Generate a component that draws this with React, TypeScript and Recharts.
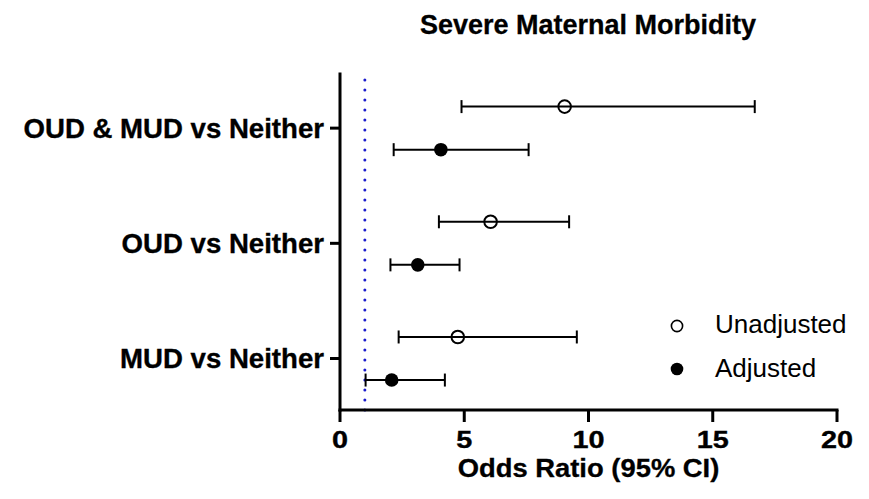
import React from 'react';
import { ScatterChart, Scatter, XAxis, YAxis, ErrorBar, ReferenceLine, Legend } from 'recharts';

// ---- data ----
const categories = ['MUD vs Neither', 'OUD vs Neither', 'OUD & MUD vs Neither'];
const categoryPositions = [1, 2, 3];
const unadjustedOR = [4.74, 6.06, 9.04];
const unadjustedLow = [2.36, 3.98, 4.89];
const unadjustedHigh = [9.53, 9.22, 16.69];
const adjustedOR = [2.08, 3.13, 4.06];
const adjustedLow = [1.03, 2.03, 2.16];
const adjustedHigh = [4.22, 4.81, 7.59];
const xTicks = [0, 5, 10, 15, 20];
const legendLabels = ['Unadjusted', 'Adjusted'];
const referenceOR = 1;

const ROW_OFFSET = 0.187;
const FONT = '"Liberation Sans", Arial, Helvetica, sans-serif';

const unadjustedData = categories.map((c, i) => ({
  name: c,
  or: unadjustedOR[i],
  y: categoryPositions[i] + ROW_OFFSET,
  err: [unadjustedOR[i] - unadjustedLow[i], unadjustedHigh[i] - unadjustedOR[i]],
}));
const adjustedData = categories.map((c, i) => ({
  name: c,
  or: adjustedOR[i],
  y: categoryPositions[i] - ROW_OFFSET,
  err: [adjustedOR[i] - adjustedLow[i], adjustedHigh[i] - adjustedOR[i]],
}));

const OpenDot = (props: any) => (
  <circle cx={props.cx} cy={props.cy} r={6.3} fill="none" stroke="#000" strokeWidth={2} />
);
const FilledDot = (props: any) => (
  <circle cx={props.cx} cy={props.cy} r={6.8} fill="#000" stroke="none" />
);

const YTick = (props: any) => {
  const { x, y, payload } = props;
  const idx = categoryPositions.indexOf(payload.value);
  return (
    <text x={x} y={y} dy={9.8} textAnchor="end" fontFamily={FONT} fontWeight="bold" fontSize={27.6}
      fill="#000" stroke="#000" strokeWidth={0.35}>
      {idx >= 0 ? categories[idx] : ''}
    </text>
  );
};

const XTick = (props: any) => {
  const { x, y, payload } = props;
  return (
    <g transform={`translate(${x},${y})`}>
      <text x={0} y={0} dy={24} textAnchor="middle" transform="scale(1.2,1)" fontFamily={FONT} fontWeight="bold"
        fontSize={24} fill="#000" stroke="#000" strokeWidth={0.35}>
        {payload.value}
      </text>
    </g>
  );
};

const XLabel = (props: any) => {
  const vb = props.viewBox || {};
  const cx = vb.x + vb.width / 2;
  const by = vb.y + 67;
  return (
    <g transform={`translate(${cx},${by})`}>
      <text x={0} y={0} textAnchor="middle" transform="scale(1.07,1)" fontFamily={FONT} fontWeight="bold"
        fontSize={25.6} fill="#000" stroke="#000" strokeWidth={0.3}>
        Odds Ratio (95% CI)
      </text>
    </g>
  );
};

const LegendContent = () => (
  <svg width={210} height={100} style={{ display: 'block' }}>
    <circle cx={27} cy={26} r={5.6} fill="none" stroke="#000" strokeWidth={1.6} />
    <text x={65} y={33} fontFamily={FONT} fontSize={26} fill="#000">{legendLabels[0]}</text>
    <circle cx={27} cy={69} r={6.3} fill="#000" />
    <text x={65} y={77} fontFamily={FONT} fontSize={26} fill="#000">{legendLabels[1]}</text>
  </svg>
);

export default function App() {
  return (
    <div style={{ position: 'absolute', left: 0, top: 0, width: 869, height: 499, background: '#fff' }}>
      <svg width={869} height={60} style={{ position: 'absolute', left: 0, top: 0 }}>
        <text x={588} y={34} textAnchor="middle" fontFamily={FONT} fontWeight="bold" fontSize={27}
          fill="#000" stroke="#000" strokeWidth={0.3}>
          Severe Maternal Morbidity
        </text>
      </svg>
      <div style={{ position: 'absolute', left: 0, top: 0 }}>
        <ScatterChart width={869} height={499} margin={{ top: 74, right: 32, bottom: 9, left: 0 }}>
          <XAxis
            type="number"
            dataKey="or"
            domain={[0, 20]}
            ticks={xTicks}
            allowDataOverflow
            height={80}
            tickSize={12}
            tickMargin={2}
            axisLine={{ stroke: '#000', strokeWidth: 3, strokeLinecap: 'square' }}
            tickLine={{ stroke: '#000', strokeWidth: 3 }}
            tick={<XTick />}
            label={<XLabel />}
          />
          <YAxis
            type="number"
            dataKey="y"
            domain={[0.553, 3.47]}
            ticks={categoryPositions}
            allowDataOverflow
            width={340}
            tickSize={10}
            tickMargin={6}
            axisLine={{ stroke: '#000', strokeWidth: 3, strokeLinecap: 'square' }}
            tickLine={{ stroke: '#000', strokeWidth: 3 }}
            tick={<YTick />}
          />
          <ReferenceLine
            x={referenceOR}
            stroke="#1c1ccc"
            strokeWidth={3}
            strokeDasharray="0 10"
            strokeLinecap="round"
          />
          <Scatter name={legendLabels[0]} data={unadjustedData} shape={<OpenDot />} isAnimationActive={false}>
            <ErrorBar dataKey="err" direction="x" width={6.5} stroke="#000" strokeWidth={2} />
          </Scatter>
          <Scatter name={legendLabels[1]} data={adjustedData} shape={<FilledDot />} isAnimationActive={false}>
            <ErrorBar dataKey="err" direction="x" width={6.5} stroke="#000" strokeWidth={2} />
          </Scatter>
          <Legend
            layout="horizontal"
            align="center"
            verticalAlign="middle"
            content={<LegendContent />}
            wrapperStyle={{ position: 'absolute', left: 650, top: 300, width: 210, height: 100 }}
          />
        </ScatterChart>
      </div>
    </div>
  );
}
